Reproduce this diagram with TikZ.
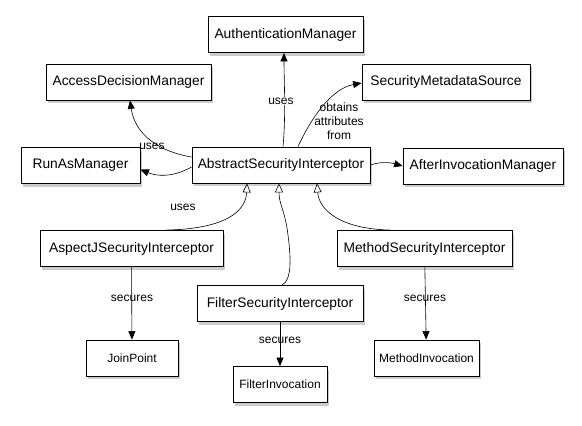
\documentclass[tikz,border=0pt]{standalone}
\usepackage{fontspec}
\setmainfont{Liberation Sans}
\usetikzlibrary{arrows.meta,shadows}
\tikzset{
  box/.style={draw, line width=0.8pt, fill=white, minimum height=36pt, inner sep=0pt,
    drop shadow={shadow xshift=1.5pt, shadow yshift=-3pt, opacity=0.4},
    font=\fontsize{13.8}{16}\selectfont},
  smallbox/.style={box, font=\fontsize{12}{14}\selectfont},
  lab/.style={font=\fontsize{12}{14}\selectfont, inner sep=1pt},
  dep/.style={line width=0.6pt, -{Triangle[length=8.5pt,width=7pt]}},
  ext/.style={line width=0.6pt, -{Triangle[open,length=9pt,width=8pt,fill=white]}}
}
\begin{document}
\begin{tikzpicture}[x=1pt,y=-1pt]
    \useasboundingbox (0,0) rectangle (582,426);%按像素坐标, y轴向下
    \node[box, minimum width=155pt] (auth) at (285.5,34.5) {AuthenticationManager};
    \node[box, minimum width=165pt] (adm) at (128.5,82) {AccessDecisionManager};
    \node[box, minimum width=168pt] (sms) at (446,82) {SecurityMetadataSource};
    \node[box, minimum width=119pt] (runas) at (80.5,165.5) {RunAsManager};
    \node[box, minimum width=178pt] (asi) at (281,165) {AbstractSecurityInterceptor};
    \node[box, minimum width=160pt] (aim) at (483,166) {AfterInvocationManager};
    \node[box, minimum width=183pt] (aspectj) at (131.5,248.5) {AspectJSecurityInterceptor};
    \node[box, minimum width=175pt] (msi) at (424.5,248.5) {MethodSecurityInterceptor};
    \node[box, minimum width=166pt] (fsi) at (280,303.5) {FilterSecurityInterceptor};
    \node[smallbox, minimum width=92pt] (jp) at (132,358) {JoinPoint};
    \node[smallbox, minimum width=94pt] (fi) at (280,384.5) {FilterInvocation};
    \node[smallbox, minimum width=105pt] (mi) at (426.5,358) {MethodInvocation};
    %uses 连线
    \draw[dep] ([xshift=2pt]asi.north) .. controls (286,115) and (284,80) .. ([xshift=-1.5pt]auth.south);
    \node[lab, fill=white] (l1) at (281,101) {uses};%白底盖住线
    \draw[dep] ([yshift=8pt]asi.west) .. controls (160,152) and (135,135) .. ([xshift=1.5pt]adm.south);
    \node[lab] (l2) at (152,146) {uses};
    \draw[dep] ([yshift=-2pt]asi.west) .. controls (172,178) and (156,176) .. ([yshift=-4pt]runas.east);
    \draw[dep] ([xshift=17pt]asi.north) .. controls (315,110) and (335,88) .. ([yshift=-1pt]sms.west);
    \node[lab, align=center] (l4) at (339,121) {obtains\\attributes\\from};
    \draw[dep] (asi.east) .. controls (382,161) and (392,163) .. (aim.west);
    %继承: 空心三角
    \draw[ext] ([xshift=33.5pt]aspectj.north) .. controls (228,229) and (246,210) .. ([xshift=-34pt]asi.south);
    \node[lab] (l6) at (183,207) {uses};
    \draw[ext] ([xshift=2pt]fsi.north) .. controls (292,280) and (291,258) .. (288,235)
        .. controls (285,210) and (279,205) .. ([xshift=-2pt]asi.south);
    \draw[ext] ([xshift=-33.5pt]msi.north) .. controls (340,229) and (319,210) .. ([xshift=36pt]asi.south);
    %secures 连线
    \draw[dep] (aspectj) -- (jp);
    \node[lab] (l9) at (132,298) {secures};
    \draw[dep] (fsi) -- (fi);
    \node[lab] (l10) at (280,340) {secures};
    \draw[dep] (msi) -- (mi);
    \node[lab] (l11) at (425,298) {secures};
\end{tikzpicture}
\end{document}
